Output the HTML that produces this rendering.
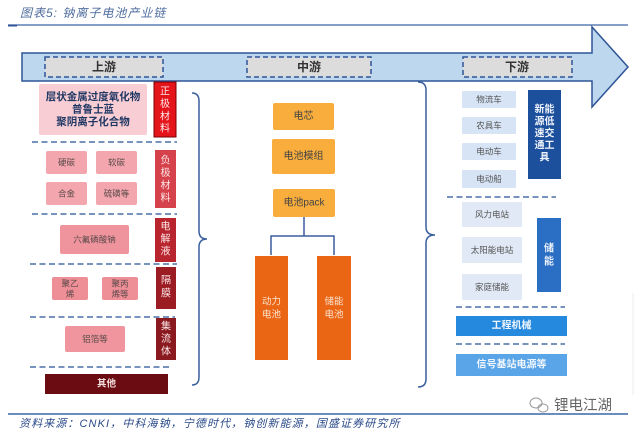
<!DOCTYPE html>
<html><head><meta charset="utf-8"><style>
html,body{margin:0;padding:0;background:#fff;}
svg{display:block;}
text{font-family:"Liberation Sans","Noto Sans CJK SC",sans-serif;}
</style></head><body>
<svg width="640" height="435" viewBox="0 0 640 435" xmlns="http://www.w3.org/2000/svg">
<!-- title -->
<text x="20" y="17" font-size="12" font-style="italic" fill="#4f6d9f" letter-spacing="1">图表5:  钠离子电池产业链</text>
<line x1="8" y1="25" x2="628" y2="25" stroke="#3d66a8" stroke-width="1.2"/>
<line x1="8" y1="25.5" x2="17" y2="25.5" stroke="#2f5597" stroke-width="2"/>

<!-- arrow -->
<path d="M22,53 L592,53 L592,27 L628,67 L592,107 L592,81 L22,81 Z" fill="#bdd7ee" stroke="#2f5597" stroke-width="1.5"/>
<rect x="45" y="57" width="118" height="20" fill="#dcdcdc" stroke="#2f5597" stroke-width="1.5" stroke-dasharray="5,3"/>
<text x="104" y="67" font-size="12" font-weight="bold" fill="#333" text-anchor="middle" dominant-baseline="central">上游</text>
<rect x="247" y="57" width="124" height="20" fill="#dcdcdc" stroke="#2f5597" stroke-width="1.5" stroke-dasharray="5,3"/>
<text x="309" y="67" font-size="12" font-weight="bold" fill="#333" text-anchor="middle" dominant-baseline="central">中游</text>
<rect x="463" y="57" width="109" height="20" fill="#dcdcdc" stroke="#2f5597" stroke-width="1.5" stroke-dasharray="5,3"/>
<text x="517" y="67" font-size="12" font-weight="bold" fill="#333" text-anchor="middle" dominant-baseline="central">下游</text>

<!-- LEFT: upstream -->
<rect x="39" y="84" width="108" height="51" rx="2" fill="#f8cdd3"/>
<text x="93" y="97" font-size="10.5" font-weight="bold" fill="#203864" text-anchor="middle" dominant-baseline="central">层状金属过度氧化物</text>
<text x="93" y="109.5" font-size="10.5" font-weight="bold" fill="#203864" text-anchor="middle" dominant-baseline="central">普鲁士蓝</text>
<text x="93" y="122" font-size="10.5" font-weight="bold" fill="#203864" text-anchor="middle" dominant-baseline="central">聚阴离子化合物</text>
<rect x="154" y="82" width="22" height="55" fill="#e5141b" stroke="#7a0000" stroke-width="1"/>
<g font-size="10" fill="#fde8e8" text-anchor="middle" dominant-baseline="central">
<text x="165" y="92">正</text><text x="165" y="104.5">极</text><text x="165" y="117">材</text><text x="165" y="129">料</text>
</g>
<line x1="32" y1="142" x2="177" y2="142" stroke="#4a6fa5" stroke-width="1.5" stroke-dasharray="6,3.5"/>

<g fill="#f4a6ae">
<rect x="46" y="151" width="41" height="23" rx="2"/>
<rect x="96" y="151" width="41" height="23" rx="2"/>
<rect x="46" y="182" width="41" height="23" rx="2"/>
<rect x="96" y="182" width="41" height="23" rx="2"/>
</g>
<g font-size="8.5" fill="#5a4a4a" text-anchor="middle" dominant-baseline="central">
<text x="66.5" y="162.5">硬碳</text><text x="116.5" y="162.5">软碳</text>
<text x="66.5" y="193.5">合金</text><text x="116.5" y="193.5">硫磺等</text>
</g>
<rect x="155" y="150" width="21" height="58" fill="#d6424b"/>
<g font-size="10" fill="#fde8e8" text-anchor="middle" dominant-baseline="central">
<text x="165.5" y="161">负</text><text x="165.5" y="173.5">极</text><text x="165.5" y="186">材</text><text x="165.5" y="198.5">料</text>
</g>
<line x1="32" y1="214" x2="177" y2="214" stroke="#4a6fa5" stroke-width="1.5" stroke-dasharray="6,3.5"/>

<rect x="60" y="225" width="69" height="29" rx="2" fill="#ef949c"/>
<text x="94.5" y="239.5" font-size="8.5" fill="#5a4a4a" text-anchor="middle" dominant-baseline="central">六氟磷酸钠</text>
<rect x="155" y="218" width="21" height="44" fill="#b8252e"/>
<g font-size="10" fill="#fde8e8" text-anchor="middle" dominant-baseline="central">
<text x="165.5" y="227">电</text><text x="165.5" y="239.5">解</text><text x="165.5" y="252">液</text>
</g>
<line x1="30" y1="264" x2="177" y2="264" stroke="#4a6fa5" stroke-width="1.5" stroke-dasharray="6,3.5"/>

<rect x="52" y="277" width="36" height="23" rx="2" fill="#ee8e96"/>
<rect x="102" y="277" width="36" height="23" rx="2" fill="#ee8e96"/>
<g font-size="8.5" fill="#5a4a4a" text-anchor="middle" dominant-baseline="central">
<text x="70" y="283.5">聚乙</text><text x="70" y="294">烯</text>
<text x="120" y="283.5">聚丙</text><text x="120" y="294">烯等</text>
</g>
<rect x="156" y="267" width="20" height="42" fill="#9c1c24"/>
<g font-size="10" fill="#fde8e8" text-anchor="middle" dominant-baseline="central">
<text x="166" y="281">隔</text><text x="166" y="294">膜</text>
</g>
<line x1="30" y1="317" x2="175" y2="317" stroke="#4a6fa5" stroke-width="1.5" stroke-dasharray="6,3.5"/>

<rect x="65" y="326" width="60" height="26" rx="2" fill="#f0959d"/>
<text x="95" y="339" font-size="8.5" fill="#5a4a4a" text-anchor="middle" dominant-baseline="central">铝箔等</text>
<rect x="156" y="318" width="20" height="42" fill="#8a1a20"/>
<g font-size="10" fill="#fde8e8" text-anchor="middle" dominant-baseline="central">
<text x="166" y="327">集</text><text x="166" y="339.5">流</text><text x="166" y="352">体</text>
</g>
<line x1="30" y1="367" x2="172" y2="367" stroke="#4a6fa5" stroke-width="1.5" stroke-dasharray="6,3.5"/>

<rect x="45" y="374" width="123" height="20" fill="#6b0c12"/>
<text x="106.5" y="384" font-size="9.5" font-weight="bold" fill="#f5e0e0" text-anchor="middle" dominant-baseline="central">其他</text>

<!-- left brace -->
<path d="M192,93 Q199,93 199,101 L199,231 Q199,239 207,239 Q199,239 199,247 L199,377 Q199,385 192,385" fill="none" stroke="#3a5f9e" stroke-width="1.5"/>

<!-- MIDDLE -->
<rect x="273" y="103" width="61" height="27" rx="2" fill="#f8ad3d"/>
<text x="303.5" y="116.5" font-size="10" fill="#444" text-anchor="middle" dominant-baseline="central">电芯</text>
<rect x="272" y="139" width="63" height="35" rx="2" fill="#f8ad3d"/>
<text x="303.5" y="156.5" font-size="10" fill="#444" text-anchor="middle" dominant-baseline="central">电池模组</text>
<rect x="273" y="189" width="62" height="28" rx="2" fill="#f8ad3d"/>
<text x="304" y="203" font-size="10" fill="#444" text-anchor="middle" dominant-baseline="central">电池pack</text>
<path d="M304,217 L304,236 M271,255 L271,236 L334,236 L334,255" fill="none" stroke="#3a5f9e" stroke-width="1.5"/>
<rect x="255" y="256" width="33" height="104" fill="#ea6514"/>
<rect x="317" y="256" width="34" height="104" fill="#ea6514"/>
<g font-size="9.5" fill="#fbe3d0" text-anchor="middle" dominant-baseline="central">
<text x="271.5" y="302">动力</text><text x="271.5" y="315">电池</text>
<text x="334" y="302">储能</text><text x="334" y="315">电池</text>
</g>

<!-- right brace -->
<path d="M418,82 Q426,82 426,90 L426,227 Q426,235 435,235 Q426,235 426,243 L426,379 Q426,387 418,387" fill="none" stroke="#3a5f9e" stroke-width="1.5"/>

<!-- RIGHT: downstream -->
<g fill="#d6e4f5">
<rect x="462" y="91" width="54" height="17" rx="1"/>
<rect x="462" y="117" width="54" height="17" rx="1"/>
<rect x="462" y="143" width="54" height="17" rx="1"/>
<rect x="462" y="170" width="54" height="18" rx="1"/>
</g>
<g font-size="8.5" fill="#555" text-anchor="middle" dominant-baseline="central">
<text x="489" y="99.5">物流车</text><text x="489" y="125.5">农具车</text>
<text x="489" y="151.5">电动车</text><text x="489" y="179">电动船</text>
</g>
<rect x="528" y="90" width="33" height="89" fill="#1c4f9c"/>
<g font-size="10" font-weight="bold" fill="#f0f4fb" text-anchor="middle" dominant-baseline="central">
<text x="544.5" y="110">新能</text><text x="544.5" y="122">源低</text><text x="544.5" y="134">速交</text><text x="544.5" y="146">通工</text><text x="544.5" y="158">具</text>
</g>
<line x1="447" y1="197" x2="556" y2="197" stroke="#4a6fa5" stroke-width="1.5" stroke-dasharray="6,3.5"/>

<g fill="#e0e9f5">
<rect x="462" y="202" width="60" height="25" rx="1"/>
<rect x="462" y="237" width="60" height="26" rx="1"/>
<rect x="462" y="274" width="60" height="26" rx="1"/>
</g>
<g font-size="8.5" fill="#555" text-anchor="middle" dominant-baseline="central">
<text x="492" y="214.5">风力电站</text><text x="492" y="250">太阳能电站</text><text x="492" y="287">家庭储能</text>
</g>
<rect x="537" y="218" width="24" height="74" fill="#2a6fc4"/>
<g font-size="10" font-weight="bold" fill="#f0f4fb" text-anchor="middle" dominant-baseline="central">
<text x="549" y="249">储</text><text x="549" y="262">能</text>
</g>
<line x1="456" y1="307" x2="565" y2="307" stroke="#4a6fa5" stroke-width="1.5" stroke-dasharray="6,3.5"/>
<rect x="456" y="316" width="111" height="20" fill="#2589de"/>
<text x="511.5" y="326" font-size="10" font-weight="bold" fill="#f0f6fd" text-anchor="middle" dominant-baseline="central">工程机械</text>
<line x1="456" y1="344" x2="565" y2="344" stroke="#4a6fa5" stroke-width="1.5" stroke-dasharray="6,3.5"/>
<rect x="456" y="354" width="111" height="22" fill="#5aa5e8"/>
<text x="511.5" y="365" font-size="10" font-weight="bold" fill="#f0f6fd" text-anchor="middle" dominant-baseline="central">信号基站电源等</text>

<line x1="633" y1="293" x2="633" y2="395" stroke="#eeeeee" stroke-width="1"/>

<!-- footer -->
<g fill="none" stroke="#999" stroke-width="1">
<ellipse cx="536" cy="403" rx="6" ry="5"/>
<ellipse cx="543" cy="408" rx="5" ry="4"/>
</g>
<text x="554" y="406" font-size="14.5" fill="#666" dominant-baseline="central">锂电江湖</text>
<line x1="8" y1="414" x2="628" y2="414" stroke="#3d66a8" stroke-width="1.5"/>
<text x="19" y="424" font-size="11" font-style="italic" fill="#2a4a8a" dominant-baseline="central" letter-spacing="1.1">资料来源：CNKI，中科海钠，宁德时代，钠创新能源，国盛证券研究所</text>
</svg>
</body></html>
